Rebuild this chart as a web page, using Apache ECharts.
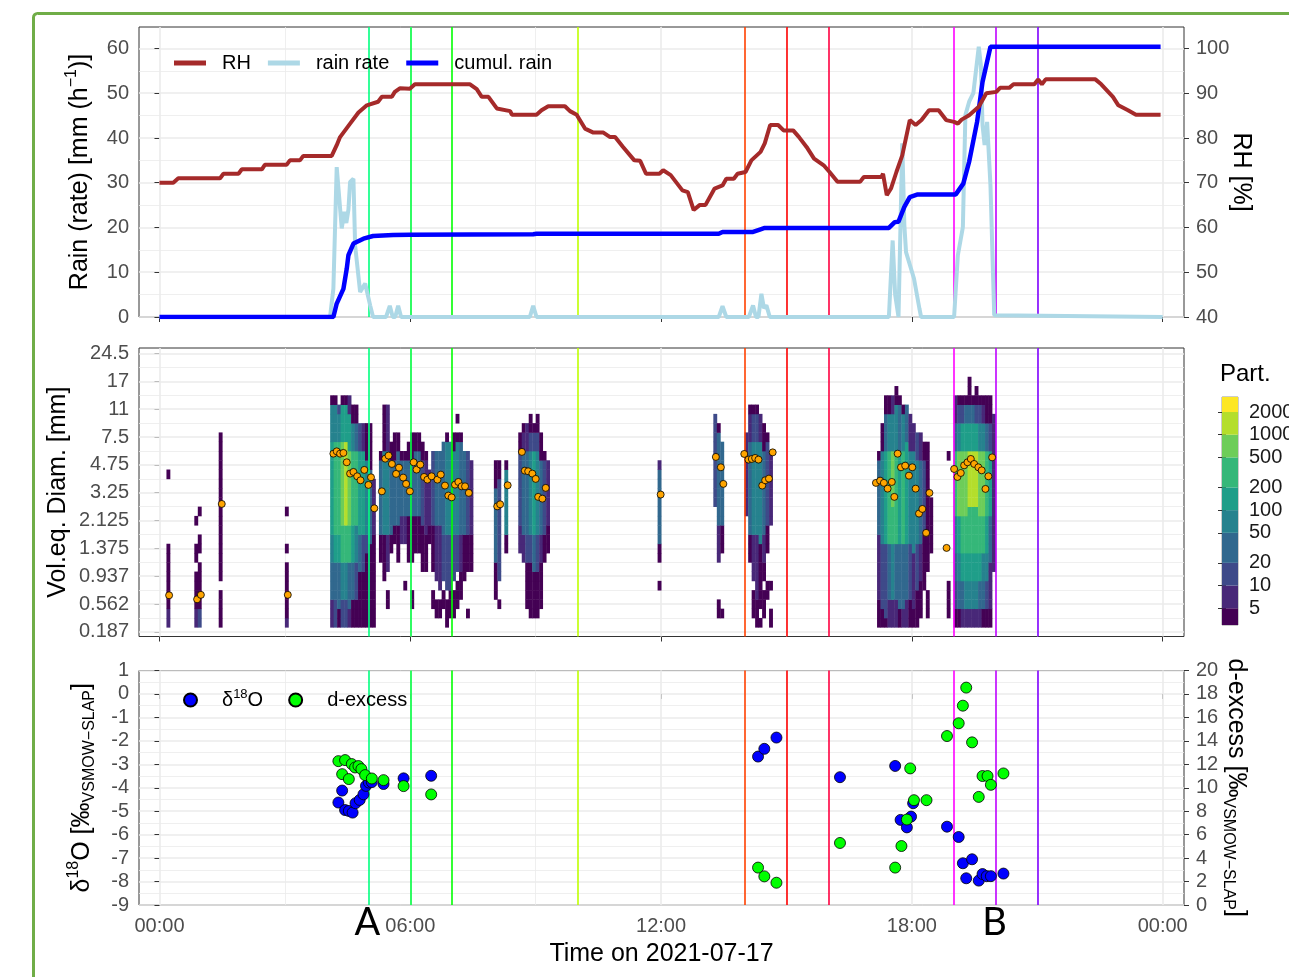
<!DOCTYPE html>
<html>
<head>
<meta charset="utf-8">
<title>Rain event 2021-07-17</title>
<script src="https://cdn.jsdelivr.net/npm/echarts@6.0.0/dist/echarts.min.js"></script>
<style>
  html, body { margin: 0; padding: 0; background: #fff; }
  #chart { width: 1289px; height: 977px; }
</style>
</head>
<body>
<div id="chart"></div>
<script>
var FONT = '"Liberation Sans", Arial, sans-serif';

// ---------- data (time in hours of 2021-07-17) ----------
var hourTicks = [0, 6, 12, 18, 24];
var hourMinor = [3, 9, 15, 21];

// vertical event lines
var eventHours = [5, 6, 7, 10, 14, 15, 16, 19, 20, 21];
var eventColors = ['#00FF80', '#00FF40', '#00FF00', '#BFFF00', '#FF4000', '#FF0000', '#FF0040', '#FF00FF', '#BF00FF', '#8000FF'];
var eventLetters = ['A', 'B'];
var eventLetterHours = [5, 20];

// top panel
var rainTicks = [0, 10, 20, 30, 40, 50, 60];
var rhTicks = [40, 50, 60, 70, 80, 90, 100];
var rhPoints = [[0,70],[0.33,70],[0.45,71],[1.45,71],[1.53,72],[1.89,72],[1.97,73],[2.45,73],[2.52,74],[3.04,74],[3.12,75],[3.36,75],[3.44,76],[4.12,76],[4.24,78.4],[4.32,80.2],[4.56,83.2],[4.76,85.7],[4.96,87.3],[5.23,88.1],[5.32,89.2],[5.56,89.2],[5.63,90.3],[5.75,91.1],[5.99,91],[6.11,92],[7.43,92],[7.59,90.9],[7.71,89.2],[7.87,89.2],[8.07,86.6],[8.39,86],[8.43,85.2],[9.02,85.2],[9.14,86.2],[9.3,87.1],[9.7,87.1],[9.82,86],[9.98,85.2],[10.18,82.1],[10.38,81.2],[10.62,81.2],[10.78,80.2],[10.9,80.2],[11.09,78],[11.36,75],[11.5,74.9],[11.64,72],[11.96,72],[12.05,72.8],[12.23,71.7],[12.51,68.3],[12.64,67.9],[12.78,63.9],[12.92,65],[13.06,65],[13.28,68.7],[13.47,69.4],[13.56,70.9],[13.74,70.9],[13.83,72],[14.02,72.4],[14.16,75],[14.38,76.9],[14.48,78.8],[14.61,82.9],[14.8,82.9],[14.93,81.7],[15.16,81.7],[15.3,80.2],[15.48,78],[15.66,75.4],[15.89,73.9],[16.03,72.4],[16.22,70.2],[16.76,70.2],[16.85,71.3],[17.27,71.3],[17.31,72],[17.4,67.2],[17.5,68.7],[17.63,72.4],[17.77,76.1],[17.95,84],[18.09,82.9],[18.23,84],[18.41,86.2],[18.64,86.2],[18.82,84],[19.01,83.6],[19.1,83.2],[19.19,84.1],[19.37,85.1],[19.6,87],[19.78,90],[20.02,90.3],[20.11,91.2],[20.33,91.2],[20.43,92],[20.93,92],[21.02,93.1],[21.11,92],[21.2,93.1],[22.39,93.1],[22.53,92],[22.81,89.2],[22.94,87.3],[23.17,86.2],[23.36,85.2],[23.95,85.2]];
var rainRate = [[0,0],[4.08,0],[4.16,6.3],[4.24,33.5],[4.27,33.5],[4.36,19.8],[4.42,23.5],[4.47,21],[4.52,24],[4.56,30.2],[4.64,30.9],[4.68,16],[4.8,5.6],[4.92,7.5],[5.04,2.6],[5.11,0],[5.42,0],[5.51,2.5],[5.58,0],[5.64,0],[5.71,2.5],[5.78,0],[8.86,0],[8.94,2.5],[9.02,0],[13.38,0],[13.47,2.4],[13.56,0],[14.1,0],[14.2,2.6],[14.27,0],[14.33,0],[14.4,5.2],[14.46,2],[14.52,2.6],[14.6,0],[17.45,0],[17.54,17.1],[17.6,5],[17.68,0],[17.77,38.8],[17.82,20.5],[17.86,14.5],[18.05,8.6],[18.18,1.9],[18.22,0],[19.01,0],[19.1,13.8],[19.22,20.1],[19.28,45.1],[19.37,48.1],[19.47,50],[19.6,60.4],[19.65,56.3],[19.69,42.9],[19.74,38.4],[19.8,43.6],[19.88,29.4],[19.97,0.4],[20,0],[24,0]];
var cumulRain = [[0,0],[4.16,0],[4.24,3],[4.4,6.3],[4.48,10.8],[4.52,13.8],[4.64,16.4],[4.88,17.5],[5.11,18.1],[5.59,18.3],[5.99,18.4],[8.94,18.5],[9.02,18.6],[13.38,18.6],[13.47,19],[14.2,19],[14.38,19.6],[14.48,19.9],[17.45,19.9],[17.59,21.2],[17.68,21.3],[17.82,24.6],[17.95,26.8],[18.14,27.4],[19.05,27.4],[19.23,29.8],[19.37,34.7],[19.56,43.6],[19.69,52.5],[19.88,60.4],[23.95,60.4]];

// middle panel: drop size classes (index -> centre diameter label)
var diamTickIdx = [2, 5, 8, 11, 14, 17, 20, 23, 26, 29, 32];
var diamLabels = ['0.187', '0.562', '0.937', '1.375', '2.125', '3.25', '4.75', '7.5', '11', '17', '24.5'];
var diamMinor = [3.5, 6.5, 9.5, 12.5, 15.5, 18.5, 21.5, 24.5, 27.5, 30.5];
var BIN_H = 5 / 60; // 5-minute columns
// runs of cells: [column, first class, last class, particle count]
var dsdRuns = [
  [2,3,4,7],[2,5,11,3],[2,19,19,3],
  [10,3,4,7],[10,5,8,3],[10,10,11,3],[10,14,14,3],
  [11,3,4,15],[11,5,9,3],[11,11,12,3],[11,15,15,3],
  [17,3,6,3],[17,8,23,3],
  [36,3,3,7],[36,4,9,3],[36,11,11,3],[36,15,15,3],
  [49,3,5,7],[49,6,9,35],[49,10,12,70],[49,13,22,150],[49,23,26,70],[49,27,27,3],
  [50,3,5,15],[50,6,9,35],[50,10,12,150],[50,13,22,350],[50,23,26,70],[50,27,27,3],
  [51,3,4,3],[51,5,9,35],[51,10,12,150],[51,13,22,350],[51,23,25,70],[51,26,26,15],
  [52,3,5,15],[52,6,9,70],[52,10,13,350],[52,14,22,700],[52,23,26,150],[52,27,27,3],
  [53,3,5,15],[53,6,9,70],[53,10,13,350],[53,14,22,1500],[53,23,26,150],[53,27,27,3],
  [54,3,4,7],[54,5,9,35],[54,10,13,350],[54,14,21,700],[54,22,25,150],[54,26,27,7],
  [55,3,5,3],[55,6,9,35],[55,10,13,150],[55,14,21,350],[55,22,24,70],[55,25,26,3],
  [56,3,5,3],[56,6,9,15],[56,10,13,70],[56,14,21,350],[56,22,24,35],[56,25,26,3],
  [57,3,8,3],[57,9,12,35],[57,13,21,150],[57,22,24,15],
  [58,3,8,3],[58,9,12,15],[58,13,21,150],[58,22,24,7],
  [59,3,10,3],[59,11,12,15],[59,13,20,70],[59,21,24,3],
  [60,3,11,3],[60,12,19,35],[60,20,24,3],
  [61,3,12,3],[61,13,18,7],
  [63,10,12,3],[63,13,20,35],[63,21,21,3],
  [64,8,12,3],[64,13,21,70],[64,22,26,3],
  [65,5,6,3],[65,9,12,7],[65,13,21,70],[65,22,26,7],
  [66,11,12,3],[66,13,20,35],[66,21,22,3],
  [67,12,13,3],[67,14,20,35],[67,21,23,3],
  [68,10,13,3],[68,14,21,35],[68,22,23,3],
  [69,12,14,7],[69,15,20,35],[69,21,21,3],
  [70,7,7,3],[70,12,14,7],[70,15,20,35],[70,21,21,3],
  [71,10,14,3],[71,15,20,35],[71,21,22,3],
  [72,5,6,3],[72,10,14,3],[72,15,20,35],[72,21,23,3],
  [73,11,14,3],[73,15,21,35],[73,22,23,3],
  [74,11,14,3],[74,15,21,35],[74,22,23,3],
  [75,9,13,3],[75,14,20,15],[75,21,22,3],
  [76,9,12,3],[76,13,20,7],[76,21,21,3],
  [77,12,13,3],[77,14,19,7],
  [78,5,6,3],[78,9,13,3],[78,14,21,15],
  [79,4,5,3],[79,8,13,7],[79,14,21,35],
  [80,4,5,3],[80,7,13,7],[80,14,21,35],
  [81,5,6,3],[81,8,12,15],[81,13,22,35],
  [82,3,5,3],[82,7,12,15],[82,13,22,70],[82,23,23,3],
  [83,4,6,3],[83,7,12,15],[83,13,22,70],
  [84,4,6,3],[84,8,12,15],[84,13,21,70],[84,22,23,3],
  [85,5,7,3],[85,9,12,15],[85,13,22,70],[85,23,23,3],[85,25,25,3],
  [86,6,8,3],[86,9,12,7],[86,13,22,35],[86,23,23,3],
  [87,8,12,3],[87,13,21,35],
  [88,4,4,3],[88,9,12,3],[88,13,21,15],
  [89,9,12,3],[89,13,20,7],
  [96,6,9,3],[96,10,17,35],[96,18,20,3],
  [97,5,5,3],[97,8,18,15],[97,19,20,3],
  [99,11,12,3],[99,13,19,70],[99,20,20,3],
  [103,11,13,7],[103,14,21,15],[103,22,23,3],
  [104,10,12,7],[104,13,21,35],[104,22,23,7],[104,24,24,3],
  [105,5,9,3],[105,10,12,15],[105,13,21,35],[105,22,24,7],
  [106,4,9,3],[106,10,12,15],[106,13,21,70],[106,22,23,15],[106,24,25,3],
  [107,4,8,3],[107,9,12,35],[107,13,21,150],[107,22,23,15],[107,24,24,3],
  [108,4,8,3],[108,9,12,15],[108,13,21,70],[108,22,23,15],[108,24,25,3],
  [109,5,9,3],[109,10,12,7],[109,13,20,35],[109,21,23,3],
  [110,10,12,3],[110,13,20,15],[110,21,21,3],
  [111,11,13,3],[111,14,20,7],
  [143,7,7,3],[143,10,11,3],[143,12,19,35],[143,20,20,7],
  [159,16,25,15],
  [160,4,5,3],[160,10,13,7],[160,14,23,35],[160,24,24,3],
  [161,4,4,3],[161,11,13,3],[161,14,22,35],
  [168,15,23,7],
  [169,10,12,3],[169,13,22,35],[169,23,25,7],[169,26,26,3],
  [170,4,6,3],[170,8,12,7],[170,13,22,70],[170,23,25,15],[170,26,26,3],
  [171,3,5,3],[171,6,12,7],[171,13,22,70],[171,23,25,15],[171,26,26,3],
  [172,3,3,3],[172,5,11,3],[172,12,22,70],[172,23,25,7],
  [173,4,6,3],[173,8,9,3],[173,10,12,7],[173,13,21,35],[173,22,24,3],
  [174,6,7,3],[174,11,13,3],[174,14,22,15],[174,23,23,3],
  [175,3,4,3],[175,7,7,3],[175,14,21,7],
  [206,3,5,3],[206,6,12,7],[206,13,20,35],[206,21,21,3],
  [207,3,4,3],[207,5,11,15],[207,12,21,70],[207,22,24,3],
  [208,3,3,3],[208,4,11,15],[208,12,21,150],[208,22,25,35],[208,26,27,3],
  [209,3,5,7],[209,6,11,35],[209,12,21,350],[209,22,25,70],[209,26,27,3],
  [210,3,5,7],[210,6,11,70],[210,12,15,350],[210,16,21,700],[210,22,25,70],[210,26,27,7],
  [211,3,5,7],[211,6,11,35],[211,12,21,350],[211,22,26,70],[211,27,28,3],
  [212,3,4,3],[212,5,11,35],[212,12,21,150],[212,22,26,35],[212,27,27,3],
  [213,3,4,7],[213,5,11,35],[213,12,21,350],[213,22,25,70],[213,26,26,3],
  [214,3,5,7],[214,6,11,35],[214,12,22,150],[214,23,26,35],
  [215,3,5,3],[215,6,11,15],[215,12,21,70],[215,22,25,7],
  [216,3,4,3],[216,5,10,7],[216,11,21,70],[216,22,24,7],
  [217,3,6,3],[217,7,11,15],[217,12,20,70],[217,21,23,15],
  [218,4,7,3],[218,8,11,7],[218,12,20,35],[218,21,23,7],
  [219,7,8,3],[219,9,12,3],[219,13,20,15],[219,21,22,3],
  [220,4,6,3],[220,9,20,3],[220,21,22,3],
  [221,11,16,3],
  [226,4,7,3],[226,21,21,3],
  [228,3,4,3],[228,5,7,15],[228,8,10,35],[228,11,14,70],[228,15,21,350],[228,22,24,35],[228,25,27,7],
  [229,3,4,3],[229,5,7,35],[229,8,10,70],[229,11,14,150],[229,15,21,700],[229,22,24,70],[229,25,26,15],[229,27,27,3],
  [230,3,4,7],[230,5,7,35],[230,8,10,150],[230,11,14,350],[230,15,21,700],[230,22,24,150],[230,25,26,15],[230,27,27,3],
  [231,3,4,7],[231,5,7,70],[231,8,10,150],[231,11,14,350],[231,15,21,700],[231,22,24,150],[231,25,26,35],[231,27,27,3],
  [232,3,4,7],[232,5,7,70],[232,8,10,150],[232,11,15,350],[232,16,21,1500],[232,22,24,150],[232,25,26,35],[232,27,29,3],
  [233,3,4,7],[233,5,7,70],[233,8,10,150],[233,11,15,350],[233,16,21,1500],[233,22,24,150],[233,25,26,35],[233,27,27,3],
  [234,3,4,7],[234,5,7,70],[234,8,10,150],[234,11,15,350],[234,16,21,1500],[234,22,24,150],[234,25,26,15],[234,27,28,3],
  [235,3,4,7],[235,5,7,35],[235,8,10,150],[235,11,14,350],[235,15,21,700],[235,22,24,70],[235,25,26,15],[235,27,27,3],
  [236,3,4,3],[236,5,7,35],[236,8,10,70],[236,11,14,350],[236,15,21,700],[236,22,24,70],[236,25,26,7],[236,27,27,3],
  [237,3,4,3],[237,5,7,15],[237,8,10,70],[237,11,14,150],[237,15,21,350],[237,22,24,35],[237,25,27,3],
  [238,3,4,3],[238,5,9,7],[238,10,14,35],[238,15,21,150],[238,22,24,15],[238,25,27,3],
  [239,9,25,7]
];
// mean drop diameter per column: [hour, class index]
var meanDiam = [[0.23,5.94],[0.9,5.51],[0.99,5.99],[1.49,15.79],[3.07,5.99],
  [4.16,21.21],[4.24,21.46],[4.32,21.21],[4.4,21.29],[4.48,20.28],[4.56,19.06],[4.64,19.24],[4.73,18.77],[4.81,18.34],[4.9,19.46],[5.0,17.84],[5.06,18.66],[5.14,15.32],
  [5.32,17.15],[5.4,20.67],[5.48,21.0],[5.56,20.1],[5.66,19.03],[5.73,19.7],[5.83,18.63],[5.9,17.95],[5.99,17.15],[6.08,20.28],[6.15,19.49],[6.24,20.03],[6.33,18.7],[6.41,18.41],
  [6.51,18.77],[6.65,18.41],[6.73,18.95],[6.83,17.77],[6.91,16.69],[6.99,16.5],[7.07,17.87],[7.15,18.16],[7.23,17.69],[7.31,17.69],[7.4,16.98],
  [8.08,15.53],[8.15,15.75],[8.33,17.8],
  [8.67,21.4],[8.74,19.38],[8.82,19.31],[8.92,19.06],[9.0,18.49],[9.06,16.55],[9.16,16.36],[9.24,17.52],
  [11.99,16.8],[13.31,20.86],[13.43,19.74],[13.49,17.95],
  [13.99,21.18],[14.09,20.57],[14.17,20.64],[14.25,20.75],[14.33,20.57],[14.42,17.77],[14.49,18.34],[14.58,18.52],[14.67,21.35],
  [17.14,18.06],[17.24,18.3],[17.33,18.06],[17.42,17.44],[17.52,18.16],[17.58,16.55],[17.66,21.21],[17.74,19.74],[17.84,19.92],[17.93,18.84],[18.01,19.74],[18.09,17.44],[18.17,14.75],[18.25,15.25],[18.34,12.67],[18.42,16.98],
  [18.83,11.05],[19.01,19.56],[19.09,18.7],[19.17,19.13],[19.25,19.95],[19.33,20.28],[19.41,20.64],[19.49,20.1],[19.59,19.74],[19.67,19.41],[19.76,17.41],[19.83,18.77],[19.92,20.81]];
// colour bins (particles)
var partBreaks = [5, 10, 20, 50, 100, 200, 500, 1000, 2000];
var partColors = ['#440154', '#482878', '#3E4A89', '#31688E', '#26828E', '#1F9E89', '#35B779', '#6DCD59', '#B4DE2C', '#FDE725'];

// bottom panel
var d18O = [[4.28,-4.63],[4.37,-4.12],[4.44,-4.95],[4.53,-4.99],[4.62,-5.06],[4.69,-4.66],[4.79,-4.52],[4.88,-4.28],[4.94,-3.92],[5.01,-3.78],[5.08,-3.76],[5.36,-3.84],[5.84,-3.6],[6.5,-3.49],
  [14.32,-2.67],[14.47,-2.34],[14.76,-1.86],[16.28,-3.55],[17.6,-3.07],[17.73,-5.37],[17.88,-5.69],[17.98,-5.23],[18.03,-4.66],
  [18.84,-5.66],[19.12,-6.1],[19.22,-7.22],[19.3,-7.86],[19.44,-7.05],[19.6,-7.96],[19.69,-7.68],[19.79,-7.77],[19.89,-7.77],[20.19,-7.66]];
var dExcess = [[4.28,12.27],[4.37,11.16],[4.44,12.36],[4.53,10.74],[4.6,12.02],[4.68,11.73],[4.76,11.85],[4.83,11.59],[4.92,11.08],[5.08,10.79],[5.36,10.65],[5.84,10.14],[6.5,9.43],
  [14.32,3.19],[14.47,2.44],[14.76,1.9],[16.28,5.29],[17.6,3.19],[17.75,5.03],[17.88,7.29],[17.96,11.65],[18.05,8.94],[18.35,8.94],
  [18.84,14.41],[19.12,15.5],[19.22,17.0],[19.3,18.54],[19.44,13.87],[19.6,9.22],[19.69,11.0],[19.81,11.0],[19.89,10.25],[20.19,11.22]];

// ---------- derived tables ----------
var dsdCells = [];
dsdRuns.forEach(function (r) {
  for (var k = r[1]; k <= r[2]; k++) dsdCells.push([r[0] * BIN_H, k, r[3]]);
});
var cbLow = [3].concat(partBreaks), cbHigh = partBreaks.concat([3162]);
var cbData = cbLow.map(function (lo, i) { return [lo, cbHigh[i], Math.sqrt(lo * cbHigh[i])]; });
var pieces = [{ lt: partBreaks[0], color: partColors[0] }];
partBreaks.forEach(function (b, i) {
  var p = { gte: b, color: partColors[i + 1] };
  if (i + 1 < partBreaks.length) p.lt = partBreaks[i + 1];
  pieces.push(p);
});

function fmtHour(v) { var h = Math.round(v) % 24; return (h < 10 ? '0' : '') + h + ':00'; }

var GRID_C = '#EBEBEB', TICK_C = '#333333', LAB_C = '#4D4D4D';
function gridLines(xMajor, xMinor, yMajor, yMinor) {
  var d = [];
  xMinor.forEach(function (v) { d.push({ xAxis: v, lineStyle: { color: GRID_C, width: 0.8, type: 'solid' } }); });
  xMajor.forEach(function (v) { d.push({ xAxis: v, lineStyle: { color: GRID_C, width: 1.6, type: 'solid' } }); });
  yMinor.forEach(function (v) { d.push({ yAxis: v, lineStyle: { color: GRID_C, width: 0.8, type: 'solid' } }); });
  yMajor.forEach(function (v) { d.push({ yAxis: v, lineStyle: { color: GRID_C, width: 1.6, type: 'solid' } }); });
  return d;
}
function eventLines() {
  return eventHours.map(function (h, i) { return { xAxis: h, lineStyle: { color: eventColors[i], width: 1.6, type: 'solid' } }; });
}
function markSeries(xi, yi, lines, z) {
  return {
    type: 'line', xAxisIndex: xi, yAxisIndex: yi, data: [], silent: true, symbol: 'none',
    markLine: { z: z, silent: true, symbol: 'none', animation: false, label: { show: false },
      emphasis: { disabled: true }, data: lines }
  };
}
function timeAxis(gi, labels) {
  return {
    type: 'value', gridIndex: gi, min: -0.49, max: 24.51,
    axisLine: { show: false },
    axisTick: { show: true, length: 5, customValues: hourTicks, lineStyle: { color: TICK_C, width: 1 } },
    axisLabel: { show: labels, customValues: hourTicks, formatter: fmtHour, color: LAB_C, fontSize: 20, margin: 11, fontFamily: FONT },
    splitLine: { show: false },
    nameMoveOverlap: false
  };
}
function valAxis(gi, pos, min, max, ticks) {
  return {
    type: 'value', gridIndex: gi, position: pos, min: min, max: max,
    axisLine: { show: false },
    axisTick: { show: true, length: 5, customValues: ticks, lineStyle: { color: TICK_C, width: 1 } },
    axisLabel: { customValues: ticks, color: LAB_C, fontSize: 20, margin: 10, fontFamily: FONT },
    splitLine: { show: false },
    nameLocation: 'middle',
    nameMoveOverlap: false
  };
}
var titleStyle = {
  color: '#000', fontSize: 25, fontFamily: FONT, lineHeight: 32,
  rich: {
    sup: { fontSize: 16, verticalAlign: 'top', lineHeight: 16, color: '#000', fontFamily: FONT },
    sub: { fontSize: 16, verticalAlign: 'bottom', lineHeight: 16, color: '#000', fontFamily: FONT }
  }
};

// ---------- axes ----------
var xAxes = [timeAxis(0, false), timeAxis(1, false), timeAxis(2, true),
  { type: 'value', gridIndex: 3, min: 0, max: 1, show: false }];
xAxes[2].name = 'Time on 2021-07-17';
xAxes[2].nameLocation = 'middle';
xAxes[2].nameGap = 37;
xAxes[2].nameTextStyle = { color: '#000', fontSize: 25, fontFamily: FONT };

var yRain = valAxis(0, 'left', 0, 64.8, rainTicks);
yRain.interval = 10;
yRain.splitLine = { show: true, lineStyle: { color: GRID_C, width: 1.6 } };
yRain.minorTick = { show: false, splitNumber: 2 };
yRain.minorSplitLine = { show: true, lineStyle: { color: GRID_C, width: 0.8 } };
yRain.name = 'Rain (rate) [mm (h{sup|\u22121})]';
yRain.nameGap = 43;
yRain.nameTextStyle = titleStyle;

var yRH = valAxis(0, 'right', 40, 104.8, rhTicks);
yRH.axisLabel.margin = 12;
yRH.name = 'RH [%]';
yRH.nameRotate = -90;
yRH.nameGap = 41;
yRH.nameTextStyle = titleStyle;

var yDiam = valAxis(1, 'left', 1.5, 32.6, diamTickIdx);
yDiam.axisLabel.formatter = function (v) { return diamLabels[diamTickIdx.indexOf(v)]; };
yDiam.name = 'Vol.eq. Diam. [mm]';
yDiam.nameGap = 68;
yDiam.nameTextStyle = { color: '#000', fontSize: 25, fontFamily: FONT };

var yD18 = valAxis(2, 'left', -9, 1, null);
delete yD18.axisTick.customValues; delete yD18.axisLabel.customValues;
yD18.interval = 1;
yD18.splitLine = { show: true, lineStyle: { color: GRID_C, width: 1.6 } };
yD18.minorTick = { show: false, splitNumber: 2 };
yD18.minorSplitLine = { show: true, lineStyle: { color: GRID_C, width: 0.8 } };
yD18.name = '\u03B4{sup|18}O [\u2030{sub|VSMOW\u2212SLAP}]';
yD18.nameGap = 41;
yD18.nameTextStyle = titleStyle;

var yDex = valAxis(2, 'right', 0, 20, null);
delete yDex.axisTick.customValues; delete yDex.axisLabel.customValues;
yDex.interval = 2;
yDex.axisLabel.margin = 12;
yDex.name = 'd-excess [\u2030{sub|VSMOW\u2212SLAP}]';
yDex.nameRotate = -90;
yDex.nameGap = 36;
yDex.nameTextStyle = titleStyle;

var yBarR = {
  type: 'log', gridIndex: 3, position: 'right', min: 3, max: 3162, logBase: 10,
  axisLine: { show: false },
  axisTick: { show: true, inside: true, length: 4, customValues: partBreaks, lineStyle: { color: TICK_C, width: 1 } },
  axisLabel: { customValues: partBreaks, color: '#1A1A1A', fontSize: 20, margin: 11, fontFamily: FONT,
    formatter: function (v) { return String(Math.round(v)); } },
  splitLine: { show: false }
};
var yBarL = {
  type: 'log', gridIndex: 3, position: 'left', min: 3, max: 3162, logBase: 10,
  axisLine: { show: false },
  axisTick: { show: true, inside: true, length: 4, customValues: partBreaks, lineStyle: { color: TICK_C, width: 1 } },
  axisLabel: { show: false }, splitLine: { show: false }
};

// ---------- series ----------
var series = [
  markSeries(0, 0, gridLines(hourTicks, hourMinor, [], []), 1),
  markSeries(1, 2, gridLines(hourTicks, hourMinor, diamTickIdx, diamMinor), 1),
  markSeries(2, 3, gridLines(hourTicks, hourMinor, [], []), 1),
  markSeries(0, 0, eventLines(), 3),
  markSeries(1, 2, eventLines(), 3),
  markSeries(2, 3, eventLines(), 3),
  { name: 'rain rate', type: 'line', xAxisIndex: 0, yAxisIndex: 0, data: rainRate, symbol: 'none', z: 4,
    lineStyle: { color: '#ADD8E6', width: 4 }, itemStyle: { color: '#ADD8E6' } },
  { name: 'cumul. rain', type: 'line', xAxisIndex: 0, yAxisIndex: 0, data: cumulRain, symbol: 'none', z: 5,
    lineStyle: { color: '#0000FF', width: 4.5 }, itemStyle: { color: '#0000FF' } },
  { name: 'RH', type: 'line', xAxisIndex: 0, yAxisIndex: 1, data: rhPoints, symbol: 'none', z: 6,
    lineStyle: { color: '#A52A2A', width: 4 }, itemStyle: { color: '#A52A2A' } }
];
var hmIdx = series.length;
series.push({
  type: 'custom', xAxisIndex: 1, yAxisIndex: 2, z: 2, data: dsdCells, encode: { x: 0, y: 1 },
  renderItem: function (params, api) {
    var t = api.value(0), k = api.value(1);
    var a = api.coord([t, k + 0.5]), b = api.coord([t + BIN_H, k - 0.5]);
    return { type: 'rect', shape: { x: a[0], y: a[1], width: b[0] - a[0] + 0.4, height: b[1] - a[1] + 0.4 },
      style: { fill: api.visual('color') } };
  }
});
var cbIdx = series.length;
series.push({
  type: 'custom', xAxisIndex: 3, yAxisIndex: 5, z: 2, data: cbData, silent: true,
  renderItem: function (params, api) {
    var a = api.coord([0, api.value(1)]), b = api.coord([1, api.value(0)]);
    return { type: 'rect', shape: { x: a[0], y: a[1], width: b[0] - a[0], height: b[1] - a[1] },
      style: { fill: api.visual('color') } };
  }
});
series.push(
  { type: 'scatter', xAxisIndex: 1, yAxisIndex: 2, data: meanDiam, symbolSize: 7, z: 6,
    itemStyle: { color: '#FFA500', borderColor: '#000', borderWidth: 0.8, opacity: 1 } },
  { name: '\u03B418O', type: 'scatter', xAxisIndex: 2, yAxisIndex: 3, data: d18O, symbolSize: 11, z: 6,
    itemStyle: { color: '#0000FF', borderColor: '#000', borderWidth: 0.8, opacity: 1 } },
  { name: 'd-excess', type: 'scatter', xAxisIndex: 2, yAxisIndex: 4, data: dExcess, symbolSize: 11, z: 7,
    itemStyle: { color: '#00FF00', borderColor: '#000', borderWidth: 0.8, opacity: 1 } }
);

var gridBox = { show: true, borderColor: '#333333', borderWidth: 1, backgroundColor: '#fff', outerBoundsMode: 'none' };
var option = {
  animation: false,
  backgroundColor: '#fff',
  title: { text: 'Part.', left: 1220, top: 362, padding: 0, textStyle: { fontSize: 24, fontWeight: 'normal', color: '#000', fontFamily: FONT } },
  grid: [
    Object.assign({ left: 139, top: 27, width: 1045, height: 290 }, gridBox),
    Object.assign({ left: 139, top: 348, width: 1045, height: 288.5 }, gridBox),
    Object.assign({ left: 139, top: 670.5, width: 1045, height: 234.5 }, gridBox),
    { left: 1222, top: 397, width: 16, height: 228, show: true, borderColor: '#999', borderWidth: 1, outerBoundsMode: 'none' }
  ],
  legend: [
    { data: ['RH', 'rain rate', 'cumul. rain'], left: 174, top: 53, padding: 0, icon: 'rect',
      itemWidth: 32, itemHeight: 5, itemGap: 17, selectedMode: false,
      textStyle: { fontSize: 20, color: '#000', fontFamily: FONT, padding: [0, 0, 0, 11] } },
    { data: ['\u03B418O', 'd-excess'], left: 183, top: 688, padding: 0, icon: 'circle',
      itemWidth: 13, itemHeight: 13, itemGap: 25, selectedMode: false,
      formatter: function (n) { return n === '\u03B418O' ? '\u03B4{s|18}O' : n; },
      textStyle: { fontSize: 20, color: '#000', fontFamily: FONT, padding: [0, 0, 0, 20], lineHeight: 24,
        rich: { s: { fontSize: 13, verticalAlign: 'top', lineHeight: 13, color: '#000', fontFamily: FONT } } } }
  ],
  visualMap: { type: 'piecewise', show: false, dimension: 2, seriesIndex: [hmIdx, cbIdx], pieces: pieces },
  xAxis: xAxes,
  yAxis: [yRain, yRH, yDiam, yD18, yDex, yBarR, yBarL],
  series: series
};

var chart = echarts.init(document.getElementById('chart'), null, { renderer: 'canvas' });
chart.setOption(option);

// frame + event letters placed through the time scale
var graphics = [{ type: 'rect', left: 31, top: 11, silent: true, z: 100,
  shape: { width: 1300, height: 1000, r: 4 }, style: { fill: 'none', stroke: '#70AD47', lineWidth: 3 } }];
eventLetters.forEach(function (t, i) {
  var px = chart.convertToPixel({ xAxisIndex: 2 }, eventLetterHours[i]);
  graphics.push({ type: 'text', x: px - 1, y: 923, silent: true, z: 100,
    style: { text: t, fill: '#000', font: '38px Lato, "Liberation Sans", sans-serif', align: 'center', verticalAlign: 'middle' } });
});
chart.setOption({ graphic: graphics });
</script>
</body>
</html>
